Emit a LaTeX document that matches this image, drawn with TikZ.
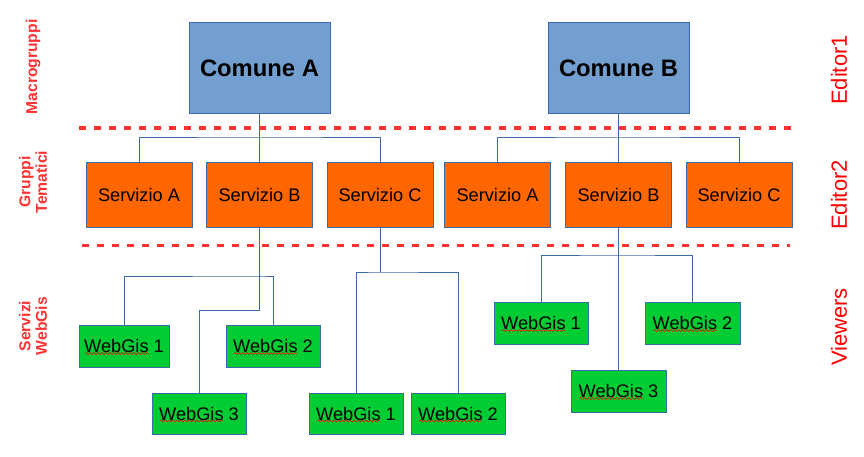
\documentclass[tikz,border=0pt]{standalone}
\usepackage{fontspec}
\setmainfont{Liberation Sans}
\usetikzlibrary{decorations.pathmorphing}
\definecolor{lineblue}{HTML}{3D6AA8}
\definecolor{comfill}{HTML}{729FCF}
\definecolor{servfill}{HTML}{FF6600}
\definecolor{wgfill}{HTML}{00CC33}
\definecolor{lblred}{HTML}{FF3333}
\definecolor{dashred}{HTML}{FF3333}
\tikzset{
  box/.style={draw=lineblue, line width=1pt, inner sep=0pt, text=black, anchor=center},
  comune/.style={box, fill=comfill, minimum width=141pt, minimum height=91pt,
    font=\fontsize{23.8}{26}\selectfont\bfseries},
  serv/.style={box, fill=servfill, minimum width=106pt, minimum height=64pt,
    font=\fontsize{18.2}{20}\selectfont},
  wg/.style={box, fill=wgfill, minimum width=94pt, minimum height=42pt,
    font=\fontsize{18.2}{20}\selectfont},
  conn/.style={draw=lineblue, line width=1pt},
  sep/.style={draw=dashred, line width=3.5pt, dash pattern=on 7pt off 8pt},
  leftlbl/.style={rotate=90, text=lblred, align=center,
    font=\fontsize{15.7}{16.5}\selectfont\bfseries},
  rightlbl/.style={rotate=90, text=red, font=\fontsize{22}{24}\selectfont},
  wavy/.style={draw=red, line width=0.6pt,
    decorate, decoration={snake, amplitude=0.9pt, segment length=4pt}}
}
\begin{document}
\begin{tikzpicture}[x=1pt, y=-1pt]
\useasboundingbox (0,0) rectangle (864,457);
% separators
\draw[sep] (79,128) -- (794,128);
\draw[sep] (82,245.5) -- (790,245.5);
% top nodes
\node[comune] (cA) at (259.5,68.5) {Comune A};
\node[comune] (cB) at (618.5,68.5) {Comune B};
% services
\node[serv] (sA1) at (139,195) {Servizio A};
\node[serv] (sB1) at (259.5,195) {Servizio B};
\node[serv] (sC1) at (380,195) {Servizio C};
\node[serv] (sA2) at (497.5,195) {Servizio A};
\node[serv] (sB2) at (618.5,195) {Servizio B};
\node[serv] (sC2) at (739,195) {Servizio C};
% webgis
\node[wg, minimum width=90pt] (w1L) at (124,346) {WebGis 1};
\node[wg] (w2L) at (273,346) {WebGis 2};
\node[wg, minimum height=41pt] (w3L) at (199,413.5) {WebGis 3};
\node[wg, minimum height=41pt] (w1C) at (356,413.5) {WebGis 1};
\node[wg, minimum height=41pt] (w2C) at (458,413.5) {WebGis 2};
\node[wg] (w1R) at (541,323) {WebGis 1};
\node[wg, minimum width=95pt] (w2R) at (692.5,323) {WebGis 2};
\node[wg, minimum width=95pt] (w3R) at (618.5,391) {WebGis 3};
% junctions
\coordinate (jA) at (259.5,138);
\coordinate (jB) at (618.5,138);
\coordinate (j2) at (260,276);
\coordinate (j3) at (380,272);
\coordinate (j4) at (618.5,255);
% connectors
\draw[conn] (cA.south) -- (sB1.north);
\draw[conn] (sA1.north) |- (jA) -| (sC1.north);
\draw[conn] (cB.south) -- (sB2.north);
\draw[conn] (sA2.north) |- (jB) -| (sC2.north);
\draw[conn] (sB1.south) -- ++(0,83) -| (w3L.north);
\draw[conn] (w1L.north) |- (j2) -| (w2L.north);
\draw[conn] (sC1.south) -- (j3);
\draw[conn] (w1C.north) |- (j3) -| (w2C.north);
\draw[conn] (sB2.south) -- (w3R.north);
\draw[conn] (w1R.north) |- (j4) -| (w2R.north);
% spell-check underlines
\foreach \n in {w1L,w2L,w3L,w1C,w2C,w1R,w2R,w3R}{
  \draw[wavy] ([xshift=-39pt,yshift=-7.5pt]\n.center) -- ([xshift=24pt,yshift=-7.5pt]\n.center);
}
% side labels
\node[leftlbl] (lM) at (33,67) {Macrogruppi};
\node[leftlbl] (lG) at (33,182) {Gruppi\\Tematici};
\node[leftlbl] (lS) at (33,326) {Servizi\\WebGis};
\node[rightlbl] (rE1) at (839,70) {Editor1};
\node[rightlbl] (rE2) at (839,195) {Editor2};
\node[rightlbl] (rV) at (839,327) {Viewers};
\end{tikzpicture}
\end{document}
